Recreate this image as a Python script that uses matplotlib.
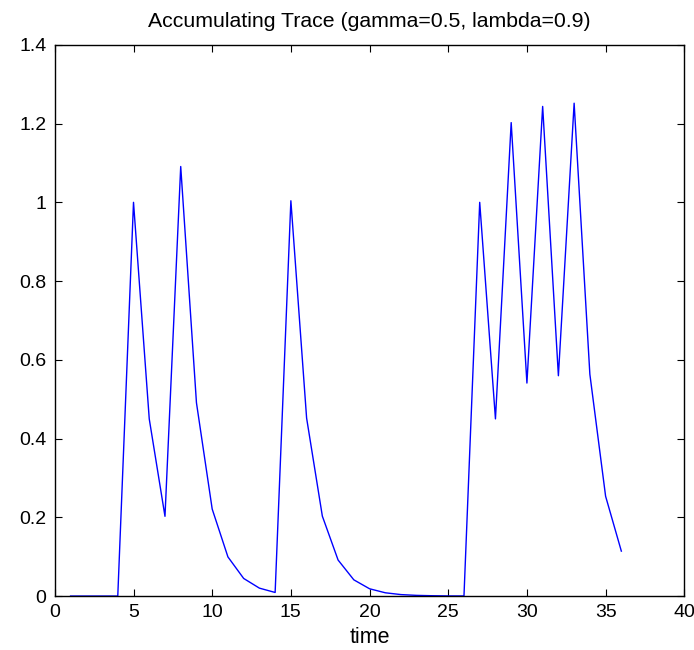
import matplotlib
matplotlib.use("Agg")
import matplotlib.pyplot as plt

# time steps and trace values
time = list(range(1, 37))
trace = [0, 0, 0, 0, 1.0, 0.45, 0.2025, 1.091, 0.491, 0.221,
         0.0994, 0.0447, 0.0201, 0.0091, 1.004, 0.452, 0.203, 0.0915, 0.0412, 0.0185,
         0.0083, 0.0037, 0.0017, 0.0008, 0.0003, 0.0002, 1.0, 0.45, 1.2025, 0.541,
         1.2436, 0.5596, 1.2518, 0.5633, 0.2535, 0.1141]

xticks = [0, 5, 10, 15, 20, 25, 30, 35, 40]
yticks = [0, 0.2, 0.4, 0.6, 0.8, 1, 1.2, 1.4]
ytick_labels = ["0", "0.2", "0.4", "0.6", "0.8", "1", "1.2", "1.4"]

plt.rcParams['font.family'] = ['Liberation Sans', 'DejaVu Sans']

fig = plt.figure(figsize=(6.94, 6.5), dpi=100)
ax = fig.add_axes([0.079, 0.083, 0.907, 0.848])

ax.plot(time, trace, color='#0000ff', linewidth=1.0)

ax.set_xlim(0, 40)
ax.set_ylim(0, 1.4)
ax.set_xticks(xticks)
ax.set_yticks(yticks)
ax.set_yticklabels(ytick_labels)
ax.tick_params(direction='in', top=True, right=True, labelsize=14, length=5, width=0.8, pad=6)
for s in ax.spines.values():
    s.set_linewidth(1.0)

ax.set_title("Accumulating Trace (gamma=0.5, lambda=0.9)", fontsize=15.3, pad=13)
ax.set_xlabel("time", fontsize=15.5, labelpad=4)

fig.savefig("out.png", dpi=100)
